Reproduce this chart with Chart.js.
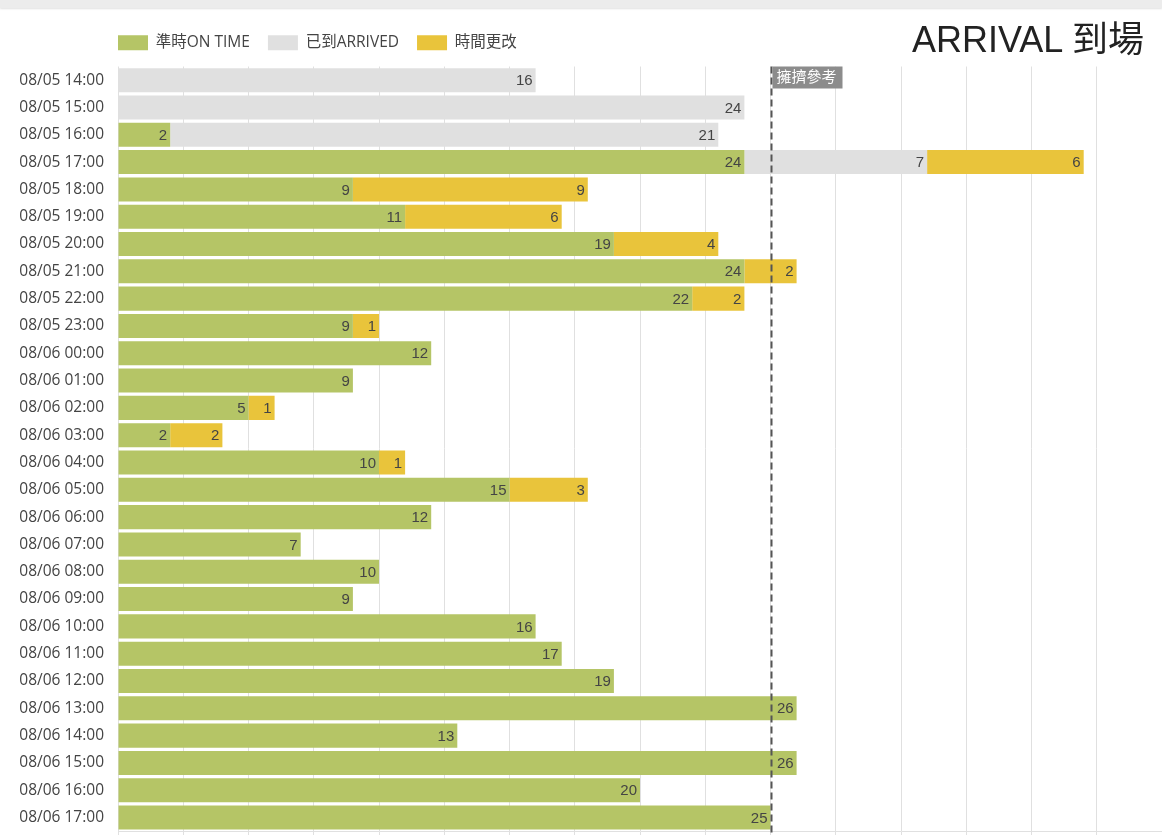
<!DOCTYPE html>
<html><head><meta charset="utf-8">
<script src="https://cdn.jsdelivr.net/npm/chart.js@4/dist/chart.umd.min.js"></script>
<style>
html,body{margin:0;padding:0;background:#fff;overflow:hidden;width:1162px;height:835px;}
#topbar{position:absolute;left:0;top:0;width:1162px;height:8px;background:#ececec;box-shadow:0 1px 2px rgba(0,0,0,0.12);z-index:2;}
#title{position:absolute;right:18px;top:10px;font-family:"Liberation Sans",Arial,"Noto Sans CJK TC",sans-serif;font-size:36px;color:#222;z-index:2;}
#c{position:absolute;left:0;top:0;}
</style></head>
<body>
<div id="topbar"></div>
<div id="title">ARRIVAL 到場</div>
<canvas id="c" width="1162" height="862"></canvas>
<script>
const categories = ["08/05 14:00","08/05 15:00","08/05 16:00","08/05 17:00","08/05 18:00","08/05 19:00","08/05 20:00","08/05 21:00","08/05 22:00","08/05 23:00","08/06 00:00","08/06 01:00","08/06 02:00","08/06 03:00","08/06 04:00","08/06 05:00","08/06 06:00","08/06 07:00","08/06 08:00","08/06 09:00","08/06 10:00","08/06 11:00","08/06 12:00","08/06 13:00","08/06 14:00","08/06 15:00","08/06 16:00","08/06 17:00"];
const onTime  = [0,0,2,24,9,11,19,24,22,9,12,9,5,2,10,15,12,7,10,9,16,17,19,26,13,26,20,25];
const arrived = [16,24,21,7,0,0,0,0,0,0,0,0,0,0,0,0,0,0,0,0,0,0,0,0,0,0,0,0];
const changed = [0,0,0,6,9,6,4,2,2,1,0,0,1,2,1,3,0,0,0,0,0,0,0,0,0,0,0,0];
const seriesNames = ["準時ON TIME","已到ARRIVED","時間更改"];
const crowdRef = 25;
const crowdLabel = "擁擠參考";

const FONT = "'Open Sans','Noto Sans CJK TC',sans-serif";
const VFONT = "'Liberation Sans',Arial,sans-serif";
const nz = a => a.map(v => v ? v : null);

const legendAdjust = {
  id:'legendAdjust',
  afterInit(chart){
    const lg = chart.legend;
    if(!lg) return;
    const f = lg.fit;
    lg.fit = function(){ f.call(this); this.height += 6; };
    const d = lg.draw;
    lg.draw = function(){
      const ctx = this.ctx;
      ctx.save(); ctx.translate(-18, 0); d.call(this); ctx.restore();
    };
  }
};
const valueLabels = {
  id:'valueLabels',
  afterDatasetsDraw(chart){
    const ctx = chart.ctx;
    ctx.save();
    ctx.font = "15px " + VFONT;
    ctx.fillStyle = "#444";
    ctx.textAlign = "right";
    ctx.textBaseline = "middle";
    chart.data.datasets.forEach((ds,i)=>{
      const meta = chart.getDatasetMeta(i);
      meta.data.forEach((bar,j)=>{
        const v = ds.data[j];
        if(!v) return;
        ctx.fillText(String(v), bar.x - 3, bar.y + 1);
      });
    });
    ctx.restore();
  }
};
const refLine = {
  id:'refLine',
  afterDraw(chart){
    const ctx = chart.ctx, xs = chart.scales.x, area = chart.chartArea;
    const x = Math.round(xs.getPixelForValue(crowdRef)) + 0.5;
    ctx.save();
    ctx.strokeStyle = "#555";
    ctx.lineWidth = 2;
    ctx.setLineDash([7,4]);
    ctx.beginPath();
    ctx.moveTo(x, area.top);
    ctx.lineTo(x, chart.height);
    ctx.stroke();
    ctx.setLineDash([]);
    ctx.font = "15px " + FONT;
    const w = ctx.measureText(crowdLabel).width + 10;
    ctx.fillStyle = "#8c8c8c";
    ctx.fillRect(x + 1, area.top, w, 22);
    ctx.fillStyle = "#fff";
    ctx.textAlign = "left";
    ctx.textBaseline = "middle";
    ctx.fillText(crowdLabel, x + 5, area.top + 11);
    ctx.restore();
  }
};

new Chart(document.getElementById('c'), {
  type:'bar',
  data:{
    labels: categories,
    datasets:[
      {label:seriesNames[0], data:nz(onTime), backgroundColor:'#b5c566', borderWidth:0},
      {label:seriesNames[1], data:nz(arrived), backgroundColor:'#e0e0e0', borderWidth:0},
      {label:seriesNames[2], data:nz(changed), backgroundColor:'#e9c43b', borderWidth:0}
    ]
  },
  options:{
    indexAxis:'y',
    responsive:false,
    animation:false,
    layout:{padding:{top:17,left:0,right:0,bottom:0}},
    datasets:{bar:{categoryPercentage:1, barPercentage:0.88}},
    plugins:{
      legend:{
        position:'top', align:'start', fullSize:false,
        labels:{boxWidth:30, boxHeight:15, padding:18, color:'#444', font:{family:FONT, size:15.5}}
      },
      title:{display:false},
      tooltip:{enabled:false}
    },
    scales:{
      x:{
        stacked:true, min:0, max:40,
        afterFit(s){ s.paddingRight = 0; s.paddingLeft = 0; },
        ticks:{stepSize:2.5, color:'#666', font:{family:FONT,size:14}},
        grid:{color:'#e0e0e0', tickLength:8},
        border:{display:true, color:'#e0e0e0'}
      },
      y:{
        stacked:true,
        afterFit(s){ s.width = 118; },
        ticks:{color:'#444', padding:14, font:{family:FONT,size:15.5}},
        grid:{display:false, drawTicks:false},
        border:{display:false}
      }
    }
  },
  plugins:[legendAdjust, valueLabels, refLine]
});
</script>
</body></html>
